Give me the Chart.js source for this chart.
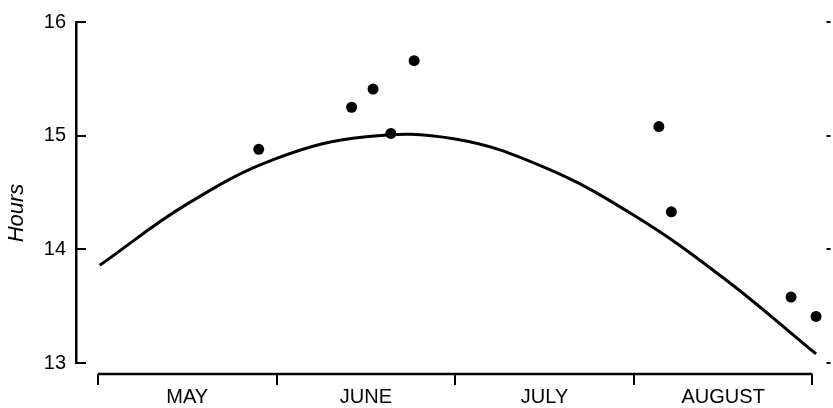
<!DOCTYPE html>
<html>
<head>
<meta charset="utf-8">
<title>Hours</title>
<script src="https://cdn.jsdelivr.net/npm/chart.js@4.4.1/dist/chart.umd.min.js"></script>
<style>
  html, body { margin: 0; padding: 0; background: #fff; }
  #chart { display: block; }
</style>
</head>
<body>
<canvas id="chart" width="833" height="408"></canvas>
<script>
// ── DATA ────────────────────────────────────────────────────
// x is measured in months from the start of May (0 = May 1, 4 = Sep 1)
const monthLabels = ['MAY', 'JUNE', 'JULY', 'AUGUST'];
const hourTicks   = [13, 14, 15, 16];

// fitted curve
const curveX     = [0.01, 0.5, 1.0, 1.5, 2.0, 2.5, 3.0, 3.5, 4.02];
const curveHours = [13.86, 14.40, 14.80, 14.99, 14.97, 14.72, 14.30, 13.75, 13.08];

// observations
const obsX     = [0.90, 1.42, 1.54, 1.64, 1.77, 3.14, 3.21, 3.88, 4.02];
const obsHours = [14.88, 15.25, 15.41, 15.02, 15.66, 15.08, 14.33, 13.58, 13.41];

const INK  = '#000';
const FONT = "'Liberation Sans', Arial, sans-serif";

// ── AXIS DECORATIONS ───────────────────────────────────────
// inward ticks on the left, stubs on the right, detached month axis below
const axisMarks = {
  id: 'axisMarks',
  afterDraw(chart) {
    const { ctx, chartArea } = chart;
    const x = chart.scales.x;
    const y = chart.scales.y;
    ctx.save();
    ctx.strokeStyle = INK;
    ctx.lineCap = 'butt';

    // hour ticks
    ctx.lineWidth = 2;
    hourTicks.forEach(v => {
      const py = Math.round(y.getPixelForValue(v));
      ctx.beginPath();
      ctx.moveTo(chartArea.left, py);
      ctx.lineTo(chartArea.left + 10, py);
      ctx.moveTo(chartArea.right - 1, py);
      ctx.lineTo(chartArea.right + 3, py);
      ctx.stroke();
    });

    // month axis
    const axisY = chartArea.bottom + 11;
    ctx.lineWidth = 2.5;
    ctx.beginPath();
    ctx.moveTo(x.getPixelForValue(0), axisY);
    ctx.lineTo(x.getPixelForValue(monthLabels.length), axisY);
    ctx.stroke();
    ctx.lineWidth = 2;
    for (let m = 0; m <= monthLabels.length; m++) {
      const px = Math.round(x.getPixelForValue(m));
      ctx.beginPath();
      ctx.moveTo(px, axisY);
      ctx.lineTo(px, axisY + 11);
      ctx.stroke();
    }

    // axis title
    ctx.fillStyle = INK;
    ctx.font = 'italic 22px ' + FONT;
    ctx.textAlign = 'center';
    ctx.textBaseline = 'middle';
    ctx.translate(17, 213);
    ctx.rotate(-Math.PI / 2);
    ctx.fillText('Hours', 0, 0);
    ctx.restore();
  }
};

// ── CHART ──────────────────────────────────────────────────
new Chart(document.getElementById('chart'), {
  type: 'scatter',
  data: {
    datasets: [
      {
        label: 'Curve',
        type: 'line',
        data: curveX.map((v, i) => ({ x: v, y: curveHours[i] })),
        borderColor: INK,
        borderWidth: 3,
        pointRadius: 0,
        fill: false,
        tension: 0.4,
      },
      {
        label: 'Observed',
        data: obsX.map((v, i) => ({ x: v, y: obsHours[i] })),
        backgroundColor: INK,
        borderColor: INK,
        pointRadius: 5.5,
        pointBorderWidth: 0,
      }
    ]
  },
  options: {
    responsive: false,
    animation: false,
    devicePixelRatio: 1,
    layout: { padding: { top: 15, right: 3, left: 0, bottom: 0 } },
    plugins: {
      legend: { display: false },
      tooltip: { enabled: false },
    },
    scales: {
      x: {
        type: 'linear',
        min: -0.123,
        max: 4.084,
        afterFit: s => { s.height = 45; },
        afterBuildTicks: s => {
          s.ticks = monthLabels.map((_, i) => ({ value: i + 0.5 }));
        },
        ticks: {
          autoSkip: false,
          maxRotation: 0,
          padding: 22,
          color: INK,
          font: { family: FONT, size: 20 },
          callback: v => monthLabels[Math.floor(v)] || '',
        },
        grid: { display: false, drawTicks: false },
        border: { display: false },
      },
      y: {
        min: 13,
        max: 16,
        afterFit: s => { s.width = 76; },
        afterBuildTicks: s => {
          s.ticks = hourTicks.map(v => ({ value: v }));
        },
        ticks: {
          padding: 10,
          color: INK,
          font: { family: FONT, size: 20 },
        },
        grid: { display: false, drawTicks: false },
        border: { display: true, color: INK, width: 2.5 },
      }
    }
  },
  plugins: [axisMarks]
});
</script>
</body>
</html>
